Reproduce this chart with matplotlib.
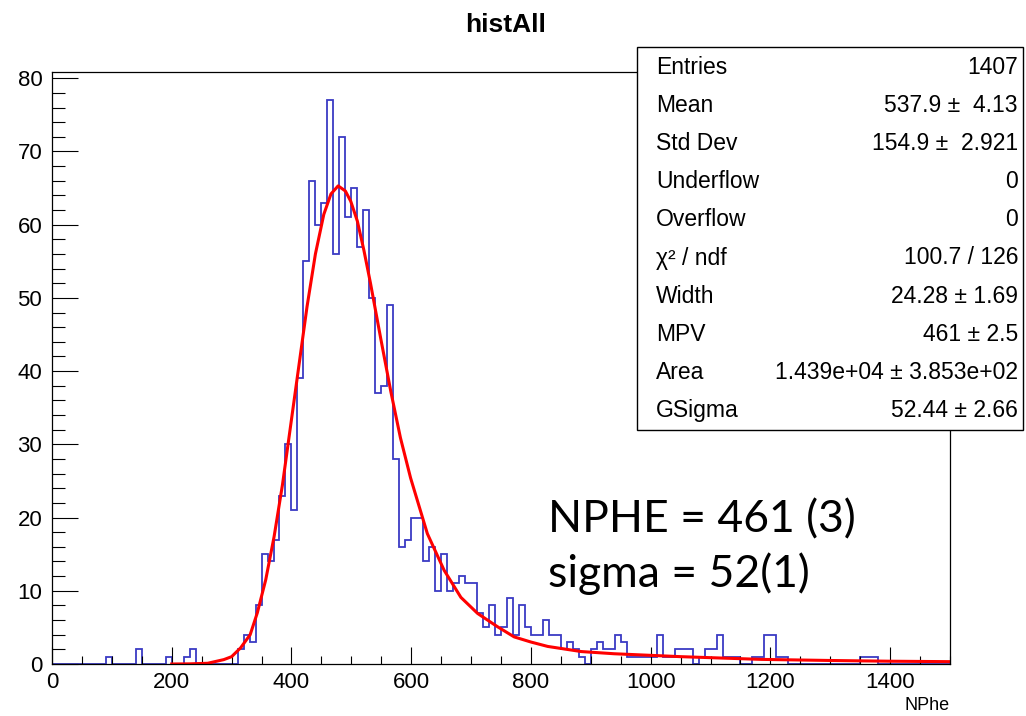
import matplotlib
matplotlib.use('Agg')
import matplotlib.pyplot as plt
from matplotlib.patches import Rectangle
from matplotlib.ticker import MultipleLocator
import numpy as np

plt.rcParams['font.family'] = ['Liberation Sans', 'DejaVu Sans']

# histogram: 150 bins of width 10 between 0 and 1500
bin_edges = np.arange(0, 1501, 10)
counts = [0, 0, 0, 0, 0, 0, 0, 0, 0, 1,
          0, 0, 0, 0, 2, 0, 0, 0, 0, 1,
          0, 0, 1, 2, 0, 0, 0, 0, 0, 0,
          0, 2, 4, 3, 8, 15, 14, 17, 23, 30,
          21, 39, 55, 66, 60, 63, 77, 56, 72, 61,
          65, 57, 62, 50, 37, 38, 49, 28, 16, 17,
          20, 20, 14, 16, 10, 15, 10, 11, 12, 11,
          11, 7, 5, 8, 4, 5, 9, 4, 8, 5,
          4, 4, 6, 4, 4, 2, 3, 2, 1, 0,
          2, 3, 2, 2, 4, 3, 1, 1, 1, 1,
          1, 4, 1, 1, 2, 2, 2, 0, 1, 2,
          2, 4, 1, 1, 1, 0, 0, 1, 1, 4,
          4, 1, 1, 0, 0, 0, 0, 0, 0, 0,
          0, 0, 0, 0, 0, 1, 1, 1, 0, 0,
          0, 0, 0, 0, 0, 0, 0, 0, 0, 0]

# fitted curve
fit_x = [200, 230, 260, 287, 300, 315, 331, 343, 357, 371, 385, 398, 412, 426,
         440, 454, 466, 478, 490, 499, 510, 521, 532, 549, 566, 582, 599, 627,
         655, 683, 711, 744, 772, 800, 828, 884, 939, 995, 1051, 1185, 1300,
         1400, 1500]
fit_y = [0.0, 0.02, 0.1, 0.6, 1.0, 2.2, 4.0, 7.0, 11.5, 17.4, 24.5, 32.2, 40.5,
         48.8, 56.0, 61.4, 64.2, 65.3, 64.6, 63.2, 60.5, 56.5, 52.0, 44.5, 37.2,
         30.9, 25.4, 17.8, 12.8, 9.1, 6.9, 5.1, 3.7, 3.0, 2.4, 1.7, 1.4, 1.2,
         1.0, 0.63, 0.48, 0.38, 0.32]

stat_labels = ['Entries', 'Mean', 'Std Dev', 'Underflow', 'Overflow',
               '\u03c7\u00b2 / ndf', 'Width', 'MPV', 'Area', 'GSigma']
stat_values = ['1407', '537.9 \u00b1  4.13', '154.9 \u00b1  2.921', '0', '0',
               '100.7 / 126', '24.28 \u00b1 1.69', '461 \u00b1 2.5',
               '1.439e+04 \u00b1 3.853e+02', '52.44 \u00b1 2.66']

W, H = 1026, 716
fig = plt.figure(figsize=(W / 100, H / 100), dpi=100)
ax = fig.add_axes([52 / W, 52 / H, 898 / W, 592 / H])

ax.stairs(counts, bin_edges, color='#3a3ac4', lw=1.3)
ax.plot(fit_x, fit_y, color='#ff0000', lw=2.2)

ax.set_xlim(0, 1500)
ax.set_ylim(0, 80.85)
ax.xaxis.set_major_locator(MultipleLocator(200))
ax.xaxis.set_minor_locator(MultipleLocator(50))
ax.yaxis.set_major_locator(MultipleLocator(10))
ax.yaxis.set_minor_locator(MultipleLocator(2))
ax.tick_params(axis='x', which='major', direction='in', length=12, width=0.8, pad=6, labelsize=16)
ax.tick_params(axis='x', which='minor', direction='in', length=5.5, width=0.8)
ax.tick_params(axis='y', which='major', direction='in', length=19, width=0.8, pad=7, labelsize=16)
ax.tick_params(axis='y', which='minor', direction='in', length=9.5, width=0.8)
for s in ax.spines.values():
    s.set_linewidth(0.9)

fig.text(506 / W, 1 - 25 / H, 'histAll', ha='center', va='center', fontsize=19, fontweight='bold')
fig.text(950 / W, 1 - 706 / H, 'NPhe', ha='right', va='center', fontsize=13)

# stats box
fig.add_artist(Rectangle((637 / W, 1 - 430 / H), 386 / W, 383 / H,
                         transform=fig.transFigure, fc='white', ec='black', lw=1))
for i in range(len(stat_labels)):
    y = 1 - (67 + i * 38.2) / H
    fig.text(656 / W, y, stat_labels[i], ha='left', va='center', fontsize=16.5)
    fig.text(1018 / W, y, stat_values[i], ha='right', va='center', fontsize=16.5)

fig.text(548 / W, 1 - 520 / H, 'NPHE = 461 (3)', ha='left', va='center',
         fontsize=32, family=['Lato', 'DejaVu Sans'])
fig.text(548 / W, 1 - 574 / H, 'sigma = 52(1)', ha='left', va='center',
         fontsize=32, family=['Lato', 'DejaVu Sans'])

fig.savefig('out.png', dpi=100)
